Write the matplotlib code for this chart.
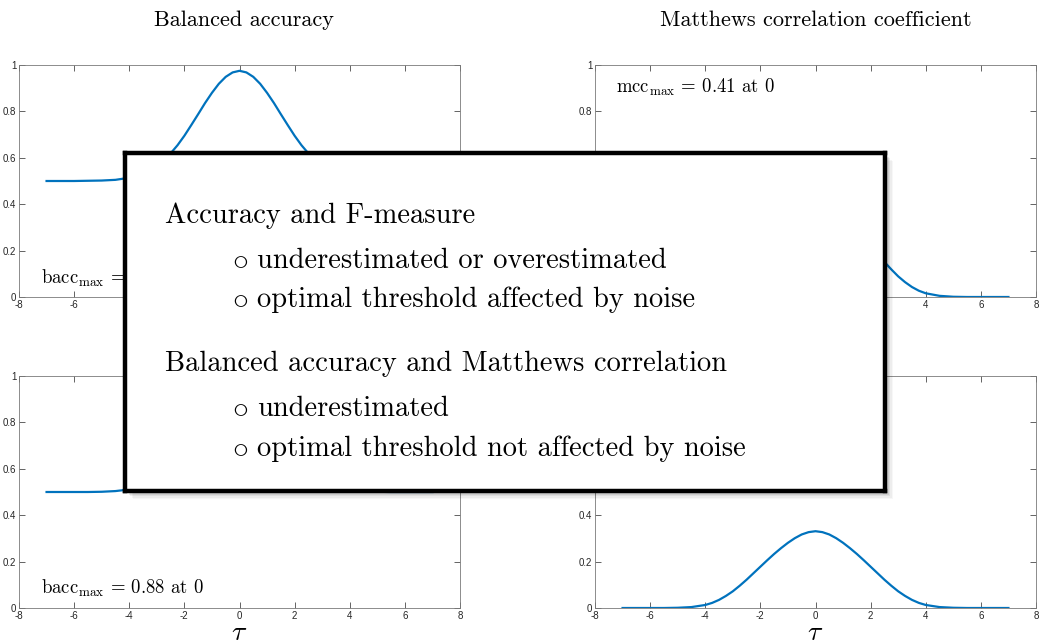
import matplotlib
matplotlib.use("Agg")
import matplotlib.pyplot as plt
from matplotlib.patches import Rectangle

plt.rcParams["mathtext.fontset"] = "cm"

# threshold grid (finer around the centre)
tau = [-7.0, -6.5, -6.0, -5.5, -5.0, -4.5,
       -4.0, -3.75, -3.5, -3.25, -3.0, -2.75, -2.5, -2.25, -2.0, -1.75, -1.5, -1.25, -1.0, -0.75, -0.5, -0.25,
       0.0, 0.25, 0.5, 0.75, 1.0, 1.25, 1.5, 1.75, 2.0, 2.25, 2.5, 2.75, 3.0, 3.25, 3.5, 3.75, 4.0,
       4.5, 5.0, 5.5, 6.0, 6.5, 7.0]

# balanced accuracy, clean labels
bacc_clean = [0.500, 0.500, 0.500, 0.501, 0.502, 0.505,
              0.514, 0.521, 0.531, 0.545, 0.564, 0.588, 0.619, 0.654, 0.695, 0.741, 0.788, 0.836, 0.880, 0.919, 0.949, 0.968,
              0.975, 0.968, 0.949, 0.919, 0.880, 0.836, 0.788, 0.741, 0.695, 0.654, 0.619, 0.588, 0.564, 0.545, 0.531, 0.521, 0.514,
              0.505, 0.502, 0.501, 0.500, 0.500, 0.500]
# Matthews correlation, clean labels
mcc_clean = [0.000, 0.000, 0.000, 0.000, 0.001, 0.005,
             0.016, 0.027, 0.043, 0.064, 0.089, 0.119, 0.151, 0.186, 0.220, 0.255, 0.289, 0.320, 0.348, 0.373, 0.393, 0.405,
             0.410, 0.405, 0.393, 0.373, 0.348, 0.320, 0.289, 0.255, 0.220, 0.186, 0.151, 0.119, 0.089, 0.064, 0.043, 0.027, 0.016,
             0.005, 0.001, 0.000, 0.000, 0.000, 0.000]
# balanced accuracy, noisy labels
bacc_noisy = [0.500, 0.500, 0.500, 0.500, 0.501, 0.504,
              0.511, 0.517, 0.525, 0.536, 0.551, 0.571, 0.595, 0.623, 0.656, 0.692, 0.731, 0.769, 0.804, 0.835, 0.860, 0.875,
              0.880, 0.875, 0.860, 0.835, 0.804, 0.769, 0.731, 0.692, 0.656, 0.623, 0.595, 0.571, 0.551, 0.536, 0.525, 0.517, 0.511,
              0.504, 0.501, 0.500, 0.500, 0.500, 0.500]
# Matthews correlation, noisy labels
mcc_noisy = [0.000, 0.000, 0.000, 0.000, 0.001, 0.004,
             0.013, 0.022, 0.035, 0.052, 0.072, 0.096, 0.122, 0.150, 0.178, 0.206, 0.233, 0.258, 0.281, 0.301, 0.317, 0.327,
             0.331, 0.327, 0.317, 0.301, 0.281, 0.258, 0.233, 0.206, 0.178, 0.150, 0.122, 0.096, 0.072, 0.052, 0.035, 0.022, 0.013,
             0.004, 0.001, 0.000, 0.000, 0.000, 0.000]

col_titles = ["Balanced accuracy", "Matthews correlation coefficient"]
annotations = [r"bacc$_{\rm max}$ = 0.98 at 0", r"mcc$_{\rm max}$ = 0.41 at 0",
               r"bacc$_{\rm max}$ = 0.88 at 0", r"mcc$_{\rm max}$ = 0.33 at 0"]
xticks = [-8, -6, -4, -2, 0, 2, 4, 6, 8]
yticks = [0, 0.2, 0.4, 0.6, 0.8, 1]
ytick_labels = ["0", "0.2", "0.4", "0.6", "0.8", "1"]

box_lines = [
    ("Accuracy and F-measure", False),
    ("underestimated or overestimated", True),
    ("optimal threshold affected by noise", True),
    ("Balanced accuracy and Matthews correlation", False),
    ("underestimated", True),
    ("optimal threshold not affected by noise", True),
]

W, H = 1039, 642
fig = plt.figure(figsize=(W / 100, H / 100), dpi=100)


def frac(x0, y0, x1, y1):
    return [x0 / W, 1 - y1 / H, (x1 - x0) / W, (y1 - y0) / H]


positions = [frac(19, 65, 460, 297), frac(595, 65, 1036, 297),
             frac(19, 376, 460, 608), frac(595, 376, 1036, 608)]
series = [bacc_clean, mcc_clean, bacc_noisy, mcc_noisy]
label_pos = [(-7.2, 0.08), (-7.25, 0.905), (-7.2, 0.086), (-7.25, 0.905)]
title_x = [0.509, 0.5]
axis_col = "#262626"

for i, (pos, ys) in enumerate(zip(positions, series)):
    ax = fig.add_axes(pos)
    ax.plot(tau, ys, color="#0072BD", lw=1.6)
    ax.set_xlim(-8, 8)
    ax.set_ylim(0, 1)
    ax.set_xticks(xticks)
    ax.set_xticklabels([str(t) for t in xticks])
    ax.set_yticks(yticks)
    ax.set_yticklabels(ytick_labels)
    ax.tick_params(direction="in", length=4, width=0.5, colors=axis_col,
                   labelsize=7, top=True, right=True, pad=2)
    for lab in ax.get_xticklabels() + ax.get_yticklabels():
        lab.set_fontfamily("Liberation Sans")
    for s in ax.spines.values():
        s.set_linewidth(0.6)
        s.set_color("#7a7a7a")
    lx, ly = label_pos[i]
    ax.text(lx, ly, annotations[i], fontfamily="cmr10", fontsize=13.5,
            va="center", ha="left")
    if i < 2:
        ax.set_title(col_titles[i], fontfamily="cmr10", fontsize=16, pad=28,
                     x=title_x[i])
    else:
        ax.set_xlabel(r"$\tau$", fontsize=20, labelpad=-2)

# summary panel with a soft drop shadow
bx0, by0, bx1, by1 = 125, 153, 885, 491
for k, a in enumerate([0.10, 0.08, 0.06, 0.04, 0.03]):
    off = 2 + k * 1.5
    fig.add_artist(Rectangle(((bx0 + off) / W, 1 - (by1 + off) / H),
                             (bx1 - bx0) / W, (by1 - by0) / H,
                             transform=fig.transFigure, facecolor="black",
                             edgecolor="none", alpha=a, zorder=9))
box = fig.add_axes(frac(bx0, by0, bx1, by1), zorder=10)
box.set_xticks([])
box.set_yticks([])
box.set_facecolor("white")
for s in box.spines.values():
    s.set_linewidth(3.2)
    s.set_color("black")

baselines = [223, 267.7, 307.3, 371, 415.7, 455.7]
for (txt, bullet), yb in zip(box_lines, baselines):
    yf = (by1 - yb) / (by1 - by0)
    if bullet:
        box.text((232 - bx0) / (bx1 - bx0), yf, r"$\circ$", fontsize=23,
                 ha="left", va="baseline", transform=box.transAxes)
        box.text((257 - bx0) / (bx1 - bx0), yf, txt, fontfamily="cmr10",
                 fontsize=20.5, ha="left", va="baseline", transform=box.transAxes)
    else:
        box.text((165 - bx0) / (bx1 - bx0), yf, txt, fontfamily="cmr10",
                 fontsize=20.5, ha="left", va="baseline", transform=box.transAxes)

fig.savefig("out.png", dpi=100)
